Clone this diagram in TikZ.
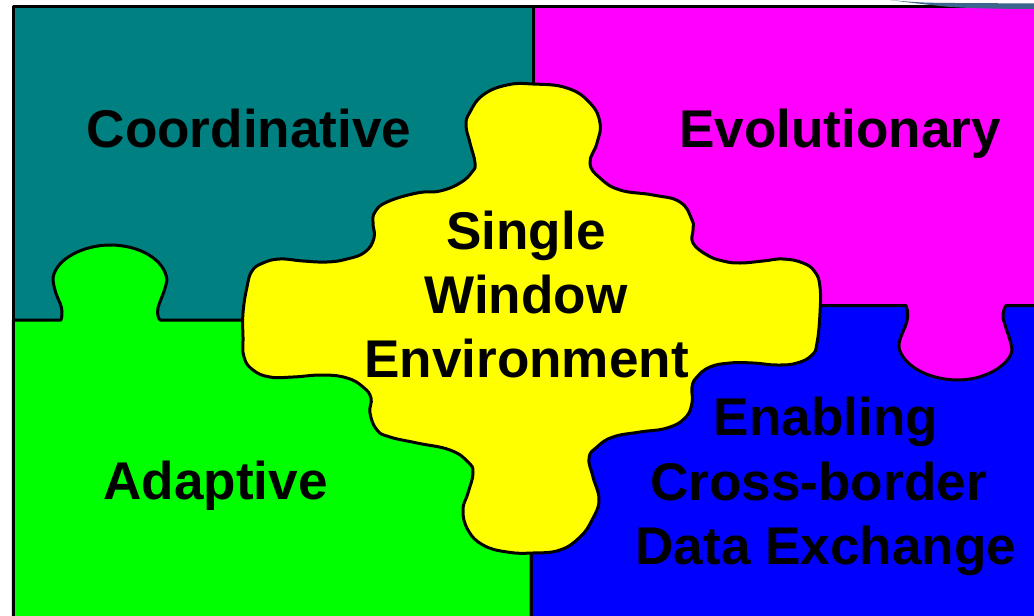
\documentclass[tikz,border=0pt]{standalone}
\usepackage{fontspec}
\setmainfont{Liberation Sans}
\definecolor{teal8}{RGB}{0,128,128}
\definecolor{mag8}{RGB}{255,0,255}
\definecolor{blue8}{RGB}{0,0,255}
\definecolor{green8}{RGB}{0,255,0}
\definecolor{yellow8}{RGB}{255,255,0}
\definecolor{swoosh}{RGB}{60,100,140}
\tikzset{
  piece/.style={draw=black,line width=3pt,line join=round},
  lbl/.style={font=\fontsize{53.1}{64}\selectfont\bfseries,align=center,text=black,inner sep=0pt},
}
\begin{document}
\begin{tikzpicture}[x=1pt,y=-1pt]
\useasboundingbox (0,0) rectangle (1034,616);
\fill[white] (0,0) rectangle (1034,616);
\clip (0,0) rectangle (1034,616);
% teal piece
\path[piece,fill=teal8] (13.3,630) -- (13.3,6.8) -- (533,6.8) -- (533,330) -- (13.3,330) -- cycle;
% magenta piece
\path[piece,fill=mag8] (533,6.8) -- (1045,6.8) -- (1045,420) -- (533,420) -- cycle;
% blue piece
\path[piece,fill=blue8] (531,630) -- (531,305.5) -- (906,305.5)
  .. controls (909,312) and (908,320) .. (905,327) .. controls (901,336) and (897,345) .. (900,351)
  .. controls (906,367) and (930,380) .. (958,380) .. controls (985,380) and (1010,365) .. (1012,350)
  .. controls (1011,340) and (1006,330) .. (1003,318) .. controls (1003,312) and (1004,308) .. (1006,305.5)
  -- (1045,305.5) -- (1045,630) -- cycle;
% green piece
\path[piece,fill=green8] (13.3,630) -- (13.3,320) -- (61,320)
  .. controls (63,314) and (62,308) .. (60,303) .. controls (56,295) and (53,285) .. (53,278)
  .. controls (56,258) and (85,245) .. (110,245) .. controls (140,245) and (165,260) .. (167,280)
  .. controls (165,292) and (160,300) .. (158,308) .. controls (157,314) and (158,318) .. (160,320)
  -- (300,320) -- (531,320) -- (531,630) -- cycle;
% yellow piece
\draw[piece,fill=yellow8] plot[smooth cycle,tension=0.75] coordinates {
 (533,84) (507,85) (483,95) (470,112) (466,125) (470,143) (475,163) (472,172) (460,183) (440,191)
 (417,193) (387,202) (375,212) (373,223) (374,238) (365,252) (347,259) (327,262) (303,261) (280,259)
 (263,263) (252,271) (247,287) (243,313) (243,337) (244,357) (253,370) (270,377) (293,377) (323,375)
 (347,378) (363,387) (371,398) (370,413) (377,430) (390,437) (417,443) (450,450) (468,462) (473,473)
 (468,493) (463,510) (468,530) (483,545) (507,552) (533,553) (560,550) (580,537) (592,520) (599,500)
 (593,477) (589,458) (597,447) (613,437) (640,432) (667,428) (685,418) (692,403) (692,387)
 (697,377) (710,367) (730,363) (753,363) (777,365) (797,363) (812,355) (817,343) (820,313) (820,287)
 (815,272) (803,263) (783,259) (763,261) (740,263) (723,261) (707,255) (693,243) (693,230) (692,220)
 (680,202) (653,195) (620,190) (600,178) (590,163) (597,143) (600,123) (590,103) (567,88)
};
% swoosh at upper right
\fill[swoosh] (890,0) .. controls (905,1.5) and (920,2.5) .. (930,2.7) .. controls (950,3) and (980,3.3) .. (1034,3.3) -- (1034,9) .. controls (1000,8.8) and (970,8.5) .. (947,6.7) .. controls (925,4.5) and (905,2) .. (890,0) -- cycle;
\node[lbl,anchor=base] (coord) at (249,147) {Coordinative};
\node[lbl,anchor=base] (evol) at (840,147) {Evolutionary};
\node[lbl,anchor=base] (adap) at (215.5,499) {Adaptive};
\node[lbl,anchor=base] (s1) at (526,249) {Single};
\node[lbl,anchor=base] (s2) at (526,313) {Window};
\node[lbl,anchor=base] (s3) at (526.5,377) {Environment};
\node[lbl,anchor=base] (e1) at (826,435) {Enabling};
\node[lbl,anchor=base] (e2) at (818.5,500) {Cross-border};
\node[lbl,anchor=base] (e3) at (826,564) {Data Exchange};
\end{tikzpicture}
\end{document}
